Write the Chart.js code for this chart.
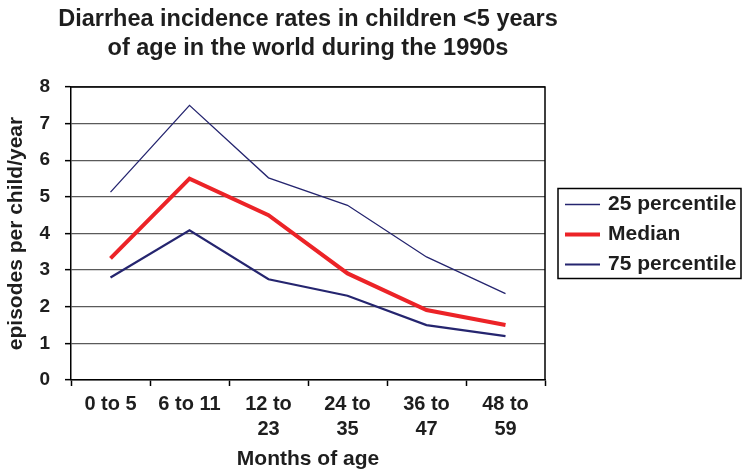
<!DOCTYPE html>
<html>
<head>
<meta charset="utf-8">
<script src="https://cdn.jsdelivr.net/npm/chart.js@4.4.1/dist/chart.umd.min.js"></script>
<style>
  html, body { margin: 0; padding: 0; background: #fff; }
</style>
</head>
<body>
<canvas id="chart" width="743" height="471"></canvas>
<script>
// categories (months of age)
var ageGroups = [['0 to 5'], ['6 to 11'], ['12 to', '23'], ['24 to', '35'], ['36 to', '47'], ['48 to', '59']];

// episodes per child per year
var p25Values = [5.13, 7.5, 5.52, 4.77, 3.36, 2.36];
var medianValues = [3.32, 5.5, 4.5, 2.91, 1.91, 1.5];
var p75Values = [2.8, 4.09, 2.75, 2.3, 1.5, 1.2];

var seriesNames = ['25 percentile', 'Median', '75 percentile'];
var yTicks = [0, 1, 2, 3, 4, 5, 6, 7, 8];

var titleLines = ['Diarrhea incidence rates in children <5 years', 'of age in the world during the 1990s'];

var fontFamily = "'Liberation Sans', Arial, Helvetica, sans-serif";
var textColor = '#1e1e1e';
var navy = '#25256f';
var red = '#ec2327';

// two-line title, centred over the plot area (wider than the plot itself)
var plotTitle = {
  id: 'plotTitle',
  afterDraw(chart) {
    const ctx = chart.ctx;
    const a = chart.chartArea;
    const cx = (a.left + a.right) / 2;
    ctx.save();
    ctx.font = 'bold 23.5px ' + fontFamily;
    ctx.fillStyle = textColor;
    ctx.textAlign = 'center';
    ctx.textBaseline = 'middle';
    titleLines.forEach((line, i) => {
      ctx.fillText(line, cx, 20 + i * 29);
    });
    ctx.restore();
  }
};

// frame round the plot (top and right edges)
var framePlugin = {
  id: 'frame',
  afterDatasetsDraw(chart) {
    const ctx = chart.ctx;
    const a = chart.chartArea;
    ctx.save();
    ctx.strokeStyle = '#000';
    ctx.lineWidth = 1.5;
    ctx.beginPath();
    ctx.moveTo(a.left, a.top);
    ctx.lineTo(a.right, a.top);
    ctx.lineTo(a.right, a.bottom);
    ctx.stroke();
    ctx.restore();
  }
};

// boxed legend on the right
var boxLegend = {
  id: 'boxLegend',
  afterDraw(chart) {
    const ctx = chart.ctx;
    const a = chart.chartArea;
    const rowH = 30;
    const sets = chart.data.datasets;
    const left = a.right + 13;
    const right = chart.width - 2;
    const mid = (a.top + a.bottom) / 2;
    const top = mid - rowH * sets.length / 2;
    ctx.save();
    ctx.strokeStyle = '#000';
    ctx.lineWidth = 1.5;
    ctx.strokeRect(left, top, right - left, rowH * sets.length);
    ctx.font = 'bold 21px ' + fontFamily;
    ctx.textBaseline = 'middle';
    ctx.fillStyle = textColor;
    sets.forEach((ds, i) => {
      const y = top + rowH * (i + 0.5) + 1;
      ctx.strokeStyle = ds.borderColor;
      ctx.lineWidth = ds.borderWidth;
      ctx.beginPath();
      ctx.moveTo(left + 7, y);
      ctx.lineTo(left + 42, y);
      ctx.stroke();
      ctx.fillText(ds.label, left + 50, y);
    });
    ctx.restore();
  }
};

var ctx = document.getElementById('chart');
var chart = new Chart(ctx, {
  type: 'line',
  data: {
    labels: ageGroups,
    datasets: [
      { label: seriesNames[0], data: p25Values, borderColor: navy, borderWidth: 1.3 },
      { label: seriesNames[1], data: medianValues, borderColor: red, borderWidth: 4 },
      { label: seriesNames[2], data: p75Values, borderColor: navy, borderWidth: 2.2 }
    ]
  },
  options: {
    responsive: false,
    animation: false,
    events: [],
    elements: {
      point: { radius: 0 },
      line: { tension: 0, borderCapStyle: 'butt' }
    },
    layout: { padding: { top: 87, right: 198, bottom: 0, left: 0 } },
    plugins: {
      legend: { display: false },
      title: { display: false },
      tooltip: { enabled: false }
    },
    scales: {
      x: {
        offset: true,
        grid: { offset: true, drawOnChartArea: false, tickLength: 6, tickColor: '#000', tickWidth: 1.5 },
        border: { color: '#000', width: 1.5 },
        ticks: {
          color: textColor, padding: 6, maxRotation: 0, autoSkip: false,
          font: { family: fontFamily, size: 20, weight: 'bold', lineHeight: 1.25 }
        },
        title: {
          display: true, text: 'Months of age', color: textColor,
          font: { family: fontFamily, size: 21, weight: 'bold', lineHeight: 1.1 },
          padding: { top: 0, bottom: 0 }
        },
        afterFit(scale) { scale.height = 471 - 380; }
      },
      y: {
        min: 0, max: 8,
        afterBuildTicks(scale) { scale.ticks = yTicks.map(v => ({ value: v })); },
        grid: { color: '#5a5a5a', lineWidth: 1.3, tickLength: 6, tickColor: '#000', tickWidth: 1.5 },
        border: { color: '#000', width: 1.5 },
        ticks: {
          color: textColor, padding: 15,
          font: { family: fontFamily, size: 19, weight: 'bold' }
        },
        title: {
          display: true, text: 'episodes per child/year', color: textColor,
          font: { family: fontFamily, size: 21, weight: 'bold' },
          padding: { top: 4, bottom: 0 }
        },
        afterFit(scale) { scale.width = 71; }
      }
    }
  },
  plugins: [framePlugin, boxLegend, plotTitle]
});
</script>
</body>
</html>
